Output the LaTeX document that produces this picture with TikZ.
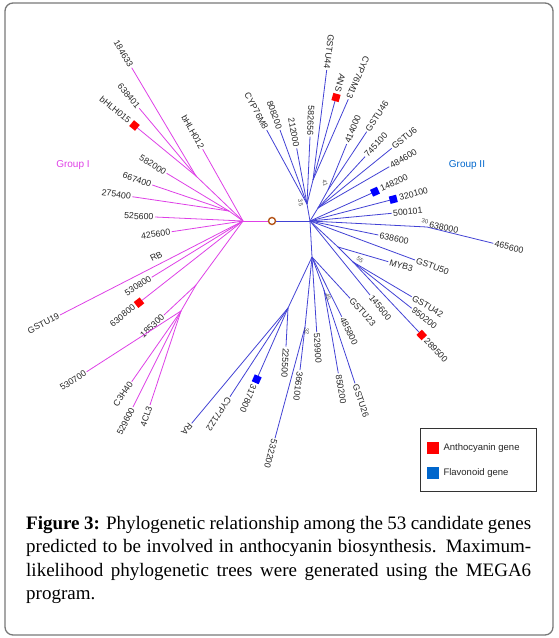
\documentclass[tikz,border=0pt]{standalone}
\usepackage{fontspec}
\setmainfont{Liberation Serif}
\newfontfamily\labfont{Liberation Sans}
\usetikzlibrary{calc}
\definecolor{mag}{RGB}{222,64,230}
\definecolor{blu}{RGB}{66,66,212}
\definecolor{grpb}{RGB}{0,102,204}
\definecolor{frm}{RGB}{120,120,120}
\definecolor{ring}{RGB}{180,85,25}
\tikzset{
  lab/.style={font=\labfont\fontsize{8.8}{9}\selectfont, text=black!85, inner sep=1.3pt},
  boot/.style={font=\labfont\fontsize{6}{7}\selectfont, text=black!70, inner sep=0pt},
  mline/.style={draw=mag, line width=0.8pt},
  bline/.style={draw=blu, line width=0.8pt},
  sqr/.style={minimum size=7.5pt, inner sep=0pt},
  captext/.style={font=\fontsize{19}{23}\selectfont, anchor=base west, inner sep=0pt},
}
% #1 extra sep, #2 parent, #3 tip, #4 label, #5 line style, #6 w/e
\newcommand\leaf[6][1.3pt]{%
  \draw[#5] (#2) -- (#3);
  \if w#6
    \path let \p1=($(#3)-(#2)$), \n1={atan2(\y1,\x1)} in
      node[lab, inner xsep=#1, anchor=west, rotate=\n1] (L#3) at (#3) {#4};
  \else
    \path let \p1=($(#3)-(#2)$), \n1={atan2(\y1,\x1)-180} in
      node[lab, inner xsep=#1, anchor=east, rotate=\n1] (L#3) at (#3) {#4};
  \fi
}
% square marker at a tip
\newcommand\sqmark[3]{%
  \path let \p1=($(#2)-(#1)$), \n1={atan2(\y1,\x1)} in
    node[sqr, fill=#3, rotate=\n1] (S#2) at (#2) {};
}
\begin{document}
\begin{tikzpicture}[x=1pt,y=-1pt]
\useasboundingbox (0,0) rectangle (558,638);
\draw[frm, line width=1.3pt, rounded corners=8pt] (5,3) rectangle (553,635);

% ---------- internal nodes
\coordinate (J1) at (243,221);
\coordinate (J2) at (310,221);
\coordinate (M1) at (196,176);
\coordinate (M2) at (229,211);
\coordinate (M3) at (175,256);
\coordinate (M4) at (196,285);
\coordinate (M5) at (181,311);
\coordinate (B1) at (307,204);
\coordinate (B2) at (313,180);
\coordinate (B3) at (318,208);
\coordinate (B4) at (328,190);
\coordinate (N30) at (427,227);
\coordinate (R1) at (338,247);
\coordinate (N55) at (353,262);
\coordinate (L1) at (312,257);
\coordinate (N45) at (324,290);
\coordinate (L3) at (288,308);
\coordinate (L4) at (305,327);

% ---------- tips
\coordinate (a1) at (131.7,67.7);
\coordinate (a2) at (139.3,108.3);
\coordinate (a3) at (134.5,125.5);
\coordinate (a4) at (202.7,149.3);
\coordinate (a5) at (166.7,173.3);
\coordinate (a6) at (152.3,185);
\coordinate (a7) at (132.3,196.7);
\coordinate (a8) at (155,217);
\coordinate (a9) at (171.7,231.7);
\coordinate (a10) at (60,315);
\coordinate (a11) at (151.7,277.3);
\coordinate (a12) at (139,302.7);
\coordinate (a13) at (164,315);
\coordinate (a14) at (86.7,371.7);
\coordinate (a15) at (131.7,381.7);
\coordinate (a16) at (133,407);
\coordinate (a17) at (150,405);

\coordinate (b1) at (266.7,130);
\coordinate (b2) at (280,130);
\coordinate (b3) at (296.7,148.3);
\coordinate (b4) at (310,136.7);
\coordinate (b5) at (326.7,70);
\coordinate (b6) at (336,97.5);
\coordinate (b7) at (348.3,99.3);
\coordinate (b8) at (346.7,144);
\coordinate (b9) at (366.7,131.7);
\coordinate (b10) at (365,156.7);
\coordinate (b11) at (391.7,148.3);
\coordinate (b12) at (389.3,166.7);
\coordinate (b13) at (375,191.7);
\coordinate (b14) at (393.3,199.3);
\coordinate (b15) at (391.7,213.3);
\coordinate (b16) at (493.3,243.3);
\coordinate (b17) at (378.3,235);
\coordinate (b18) at (415,260);
\coordinate (b19) at (388.3,261.7);
\coordinate (b20) at (411.7,296.7);
\coordinate (b21) at (411.7,308.3);
\coordinate (b22) at (421.7,335);
\coordinate (b23) at (370,295);
\coordinate (b24) at (350,298.3);
\coordinate (b25) at (341.7,316.7);
\coordinate (b26) at (338.3,373.3);
\coordinate (b27) at (355,383.3);
\coordinate (b28) at (316.7,332);
\coordinate (b29) at (191.7,423.3);
\coordinate (b30) at (230,396.7);
\coordinate (b31) at (256.7,379.3);
\coordinate (b32) at (286,346.7);
\coordinate (b33) at (300,370);
\coordinate (b34) at (275,438.3);

% ---------- root
\draw[mline] (J1) -- (272,221) coordinate (root);
\draw[bline] (root) -- (J2);
\node[circle, draw=ring, line width=1.4pt, fill=white, minimum size=7pt, inner sep=0pt] (rootc) at (root) {};

% ---------- Group I (magenta)
\draw[mline] (J1) -- (M1);
\draw[mline] (J1) -- (M2);
\draw[mline] (J1) -- (M3);
\draw[mline] (J1) -- (M4);
\draw[mline] (M4) -- (M5);
\leaf{M1}{a1}{184633}{mline}{e}
\leaf{M1}{a2}{638401}{mline}{e}
\leaf[6pt]{M1}{a3}{bHLH015}{mline}{e}
\leaf{J1}{a4}{bHLH012}{mline}{e}
\leaf{M2}{a5}{582000}{mline}{e}
\leaf{M2}{a6}{667400}{mline}{e}
\leaf{M2}{a7}{275400}{mline}{e}
\leaf{J1}{a8}{525600}{mline}{e}
\leaf{J1}{a9}{425600}{mline}{e}
\leaf{M3}{a10}{GSTU19}{mline}{e}
\node[lab, anchor=east, rotate=27] (lRB) at (163,253) {RB};
\leaf{J1}{a11}{530800}{mline}{e}
\leaf[6pt]{J1}{a12}{630800}{mline}{e}
\leaf{M4}{a13}{185300}{mline}{e}
\leaf{M5}{a14}{530700}{mline}{e}
\leaf{M5}{a15}{C3H40}{mline}{e}
\leaf{M5}{a16}{529600}{mline}{e}
\leaf{M5}{a17}{4CL3}{mline}{e}
\sqmark{M1}{a3}{red}
\sqmark{J1}{a12}{red}

% ---------- Group II (blue)
\draw[bline] (J2) -- (B1);
\draw[bline] (B1) -- (B2);
\draw[bline] (J2) -- (B3);
\draw[bline] (B3) -- (B4);
\draw[bline] (J2) -- (N30);
\draw[bline] (J2) -- (R1);
\draw[bline] (R1) -- (N55);
\draw[bline] (J2) -- (L1);
\draw[bline] (L1) -- (N45);
\draw[bline] (L1) -- (L3);
\draw[bline] (L1) -- (L4);
\leaf{B1}{b1}{CYP76M8}{bline}{e}
\leaf{B1}{b2}{808200}{bline}{e}
\leaf{B1}{b3}{212000}{bline}{e}
\leaf{B1}{b4}{582656}{bline}{e}
\leaf{B2}{b5}{GSTU44}{bline}{e}
\leaf[6pt]{B2}{b6}{ANS}{bline}{e}
\leaf{B2}{b7}{CYP76M13}{bline}{e}
\leaf{B4}{b8}{414000}{bline}{w}
\leaf{B4}{b9}{GSTU46}{bline}{w}
\leaf{B3}{b10}{745100}{bline}{w}
\leaf{B3}{b11}{GSTU6}{bline}{w}
\leaf{B3}{b12}{484600}{bline}{w}
\leaf[6pt]{J2}{b13}{148200}{bline}{w}
\leaf[6pt]{J2}{b14}{320100}{bline}{w}
\leaf{J2}{b15}{500101}{bline}{w}
\leaf{N30}{b16}{465600}{bline}{w}
\node[lab, anchor=west, rotate=-12] (l638000) at (428,224.5) {638000};
\leaf{J2}{b17}{638600}{bline}{w}
\leaf{J2}{b18}{GSTU50}{bline}{w}
\leaf{R1}{b19}{MYB3}{bline}{w}
\leaf{N55}{b20}{GSTU42}{bline}{w}
\leaf{N55}{b21}{950200}{bline}{w}
\leaf[6pt]{N55}{b22}{289500}{bline}{w}
\leaf{J2}{b23}{145600}{bline}{w}
\leaf{L1}{b24}{GSTU23}{bline}{w}
\leaf{L1}{b25}{485800}{bline}{w}
\leaf{N45}{b26}{850200}{bline}{w}
\leaf{N45}{b27}{GSTU26}{bline}{w}
\leaf{L1}{b28}{529900}{bline}{w}
\leaf{L3}{b29}{RA}{bline}{w}
\leaf{L3}{b30}{CYP71Z2}{bline}{w}
\leaf[6pt]{L3}{b31}{317800}{bline}{w}
\leaf{L3}{b32}{225500}{bline}{w}
\leaf{L4}{b33}{366100}{bline}{w}
\leaf{L4}{b34}{532200}{bline}{w}
\sqmark{B2}{b6}{red}
\sqmark{J2}{b13}{blue}
\sqmark{J2}{b14}{blue}
\sqmark{N55}{b22}{red}
\sqmark{L3}{b31}{blue}

% bootstrap values
\node[boot, rotate=-80] (bs35) at (300.7,202.7) {35};
\node[boot, rotate=-75] (bs41) at (325,183.3) {41};
\node[boot, rotate=-10] (bs30) at (425,221.5) {30};
\node[boot, rotate=-35] (bs55) at (360,259.5) {55};
\node[boot, rotate=-70] (bs45) at (328.3,296.7) {45};
\node[boot, rotate=-85] (bs32) at (306.7,331.7) {32};

% group labels
\node[font=\labfont\fontsize{10}{12}\selectfont, text=mag] (g1) at (73,165) {Group I};
\node[font=\labfont\fontsize{10}{12}\selectfont, text=grpb] (g2) at (467,165) {Group II};

% legend
\draw[black!80, line width=0.7pt] (420,428) rectangle (536,491);
\node[sqr, minimum size=12pt, fill=red] (lg1) at (433,448) {};
\node[sqr, minimum size=12pt, fill=grpb] (lg2) at (433,473) {};
\node[lab, anchor=west, font=\labfont\fontsize{9.5}{10}\selectfont] (lt1) at (442,448) {Anthocyanin gene};
\node[lab, anchor=west, font=\labfont\fontsize{9.5}{10}\selectfont] (lt2) at (442,473) {Flavonoid gene};

% caption
\node[captext] (c1) at (26,529) {\makebox[505pt][s]{\textbf{Figure 3:} Phylogenetic relationship among the 53 candidate genes}};
\node[captext] (c2) at (26,552.5) {\makebox[505pt][s]{predicted to be involved in anthocyanin biosynthesis. Maximum-}};
\node[captext] (c3) at (26,576) {\makebox[505pt][s]{likelihood phylogenetic trees were generated using the MEGA6}};
\node[captext] (c4) at (26,599.5) {program.};
\end{tikzpicture}
\end{document}
